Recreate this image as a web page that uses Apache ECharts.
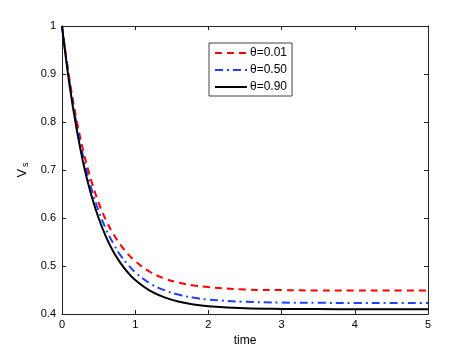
<!DOCTYPE html>
<html>
<head>
<meta charset="utf-8">
<script src="https://cdn.jsdelivr.net/npm/echarts@6/dist/echarts.min.js"></script>
<style>html,body{margin:0;padding:0;background:#fff;}#c{width:472px;height:354px;}</style>
</head>
<body>
<div id="c"></div>
<script>
var timeValues = [0, 0.1, 0.2, 0.3, 0.4, 0.5, 0.6, 0.7, 0.8, 0.9, 1.0, 1.2, 1.4, 1.6, 1.8, 2.0, 2.5, 3.0, 3.5, 4.0, 4.5, 5.0];
var theta001 = [1, 0.891, 0.804, 0.734, 0.678, 0.632, 0.596, 0.567, 0.544, 0.525, 0.510, 0.488, 0.474, 0.465, 0.4595, 0.456, 0.451, 0.4498, 0.449, 0.449, 0.449, 0.449];
var theta050 = [1, 0.886, 0.795, 0.721, 0.662, 0.615, 0.577, 0.547, 0.522, 0.503, 0.487, 0.464, 0.4495, 0.440, 0.434, 0.430, 0.4254, 0.4238, 0.4233, 0.423, 0.423, 0.423];
var theta090 = [1, 0.880, 0.785, 0.708, 0.648, 0.600, 0.561, 0.530, 0.506, 0.4865, 0.471, 0.4487, 0.4346, 0.4256, 0.4199, 0.4163, 0.412, 0.4106, 0.4102, 0.410, 0.410, 0.410];
var seriesNames = ['\u03b8=0.01', '\u03b8=0.50', '\u03b8=0.90'];
var xTicks = [0, 1, 2, 3, 4, 5];
var yTicks = [0.4, 0.5, 0.6, 0.7, 0.8, 0.9, 1];

function pairs(ys) { return timeValues.map(function (t, i) { return [t, ys[i]]; }); }

var font = 'Liberation Sans, Arial, sans-serif';
var axisCommon = {
  axisLine: { show: true, onZero: false, lineStyle: { color: '#222', width: 1 } },
  axisTick: { show: true, inside: true, length: 4, lineStyle: { color: '#222' } },
  splitLine: { show: false }
};
var chart = echarts.init(document.getElementById('c'), null, { renderer: 'canvas' });
chart.setOption({
  animation: false,
  backgroundColor: '#fff',
  grid: { left: 62, right: 44, top: 26, bottom: 40, containLabel: false },
  legend: {
    orient: 'vertical', left: 209, top: 43,
    data: seriesNames,
    itemWidth: 32, itemHeight: 10, itemGap: 5,
    itemStyle: { opacity: 0, borderWidth: 0 },
    borderColor: '#444', borderWidth: 1, borderRadius: 0,
    padding: [4, 5, 3, 5],
    textStyle: { fontFamily: font, fontSize: 12, color: '#000', padding: [0, 0, 0, -2] }
  },
  xAxis: [
    Object.assign({}, axisCommon, {
      type: 'value', min: 0, max: 5, interval: 1, position: 'bottom',
      name: 'time', nameLocation: 'middle', nameGap: 17,
      nameTextStyle: { fontFamily: font, fontSize: 12, color: '#000' },
      axisLabel: { fontFamily: font, fontSize: 11, color: '#000', margin: 5 }
    }),
    Object.assign({}, axisCommon, {
      type: 'value', min: 0, max: 5, interval: 1, position: 'top',
      axisLabel: { show: false }
    })
  ],
  yAxis: [
    Object.assign({}, axisCommon, {
      type: 'value', min: 0.4, max: 1, interval: 0.1, position: 'left',
      name: '{v|V}{s|s}', nameLocation: 'middle', nameGap: 32, nameRotate: 90,
      nameTextStyle: {
        fontFamily: font, color: '#000',
        rich: {
          v: { fontFamily: font, fontSize: 13, color: '#000' },
          s: { fontFamily: font, fontSize: 9, color: '#000', padding: [6, 0, 0, 2] }
        }
      },
      axisLabel: {
        fontFamily: font, fontSize: 11, color: '#000', margin: 6,
        formatter: function (v) { return String(Math.round(v * 10) / 10); }
      }
    }),
    Object.assign({}, axisCommon, {
      type: 'value', min: 0.4, max: 1, interval: 0.1, position: 'right',
      axisLabel: { show: false }
    })
  ],
  series: [
    { name: seriesNames[0], type: 'line', data: pairs(theta001), smooth: 0.4, showSymbol: false, symbol: 'none',
      lineStyle: { color: '#ff0000', width: 2, type: [7, 5] }, itemStyle: { color: '#ff0000' }, z: 3 },
    { name: seriesNames[1], type: 'line', data: pairs(theta050), smooth: 0.4, showSymbol: false, symbol: 'none',
      lineStyle: { color: '#2040ff', width: 2, type: [8, 4, 2, 4] }, itemStyle: { color: '#2040ff' }, z: 4 },
    { name: seriesNames[2], type: 'line', data: pairs(theta090), smooth: 0.4, showSymbol: false, symbol: 'none',
      lineStyle: { color: '#000000', width: 2, type: 'solid' }, itemStyle: { color: '#000000' }, z: 5 }
  ]
});
</script>
</body>
</html>
